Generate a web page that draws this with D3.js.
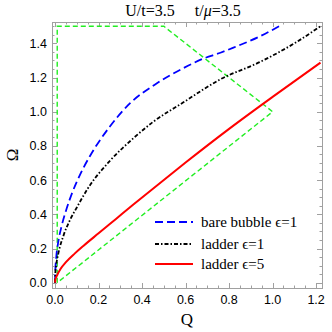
<!DOCTYPE html>
<html>
<head>
<meta charset="utf-8">
<script src="https://cdn.jsdelivr.net/npm/d3@7"></script>
<style>
  body { margin: 0; background: #fff; }
  svg { display: block; }
</style>
</head>
<body>
<div id="chart"></div>
<script>
// values
const bubbleQ = [0, 0.001, 0.005, 0.015, 0.03, 0.05, 0.08, 0.12, 0.16, 0.25, 0.345, 0.46, 0.59, 0.68, 0.76, 0.82, 0.94, 1.04];
const bubbleW = [0, 0.06, 0.14, 0.24, 0.33, 0.42, 0.53, 0.645, 0.74, 0.91, 1.05, 1.16, 1.255, 1.31, 1.345, 1.375, 1.44, 1.507];

const ladder1Q = [0, 0.001, 0.005, 0.015, 0.04, 0.07, 0.1, 0.15, 0.25, 0.36, 0.45, 0.59, 0.76, 0.94, 1.1, 1.22];
const ladder1W = [0, 0.05, 0.1, 0.17, 0.28, 0.37, 0.44, 0.55, 0.71, 0.845, 0.94, 1.055, 1.19, 1.29, 1.4, 1.5];

const ladder5Q = [0, 0.002, 0.01, 0.025, 0.05, 0.09, 0.13, 0.2, 0.28, 0.36, 0.45, 0.6, 0.8, 1.0, 1.22];
const ladder5W = [0, 0.02, 0.045, 0.08, 0.12, 0.17, 0.215, 0.289, 0.373, 0.457, 0.55, 0.703, 0.9, 1.087, 1.287];

// continuum boundary
const edgeQ = [0.01, 0.01, 0.5, 1.0, 0.01];
const edgeW = [0, 1.5, 1.5, 1.0, 0];

const xTicks = [0, 0.2, 0.4, 0.6, 0.8, 1.0, 1.2];
const yTicks = [0, 0.2, 0.4, 0.6, 0.8, 1.0, 1.2, 1.4];

const legendLabels = ["bare bubble \u03f5=1", "ladder \u03f5=1", "ladder \u03f5=5"];

const width = 332, height = 332;
const pLeft = 52, pRight = 322, pTop = 22, pBottom = 288;

const x = d3.scaleLinear().domain([-0.014, 1.227]).range([pLeft, pRight]);
const y = d3.scaleLinear().domain([-0.031, 1.525]).range([pBottom, pTop]);

const svg = d3.select("#chart").append("svg")
  .attr("width", width)
  .attr("height", height);

const frameColor = "#a0a0a0";

// minor + major ticks, on all four sides, pointing inward
const xMinor = d3.range(0, 1.2001, 0.05);
const yMinor = d3.range(0, 1.5001, 0.05);
function isMajor(v) { return Math.abs(v * 5 - Math.round(v * 5)) < 1e-6; }

const tickG = svg.append("g").attr("stroke", frameColor).attr("stroke-width", 1);
xMinor.forEach(v => {
  const len = isMajor(v) ? 5 : 2.5;
  const px = Math.round(x(v)) + 0.5;
  tickG.append("line").attr("x1", px).attr("x2", px).attr("y1", pBottom).attr("y2", pBottom - len);
  tickG.append("line").attr("x1", px).attr("x2", px).attr("y1", pTop).attr("y2", pTop + len);
});
yMinor.forEach(v => {
  const len = isMajor(v) ? 5 : 2.5;
  const py = Math.round(y(v)) + 0.5;
  tickG.append("line").attr("y1", py).attr("y2", py).attr("x1", pLeft).attr("x2", pLeft + len);
  tickG.append("line").attr("y1", py).attr("y2", py).attr("x1", pRight).attr("x2", pRight - len);
});

svg.append("rect")
  .attr("x", pLeft + 0.5).attr("y", pTop + 0.5)
  .attr("width", pRight - pLeft).attr("height", pBottom - pTop)
  .attr("fill", "none").attr("stroke", frameColor).attr("stroke-width", 1);

// tick labels
svg.selectAll("text.xt")
  .data(xTicks)
  .enter()
  .append("text")
  .attr("class", "xt")
  .attr("x", d => x(d))
  .attr("y", 304)
  .attr("text-anchor", "middle")
  .attr("font-family", "Liberation Sans, Arial, sans-serif")
  .attr("font-size", "12.5px")
  .text(d => d.toFixed(1));

svg.selectAll("text.yt")
  .data(yTicks)
  .enter()
  .append("text")
  .attr("class", "yt")
  .attr("x", 47)
  .attr("y", d => y(d) + 4.5)
  .attr("text-anchor", "end")
  .attr("font-family", "Liberation Sans, Arial, sans-serif")
  .attr("font-size", "12.5px")
  .text(d => d.toFixed(1));

// axis labels and title
svg.append("text")
  .attr("x", 187).attr("y", 325)
  .attr("text-anchor", "middle")
  .attr("font-family", "Liberation Serif, Times New Roman, serif")
  .attr("font-size", "17px")
  .text("Q");

svg.append("text")
  .attr("transform", "translate(18,155) rotate(-90)")
  .attr("text-anchor", "middle")
  .attr("font-family", "Liberation Serif, Times New Roman, serif")
  .attr("font-size", "17px")
  .text("\u03a9");

const title = svg.append("text")
  .attr("x", 183).attr("y", 15.5)
  .attr("text-anchor", "middle")
  .attr("font-family", "Liberation Serif, Times New Roman, serif")
  .attr("font-size", "16px")
  .attr("xml:space", "preserve");
title.append("tspan").text("U/t=3.5\u2003 t/");
title.append("tspan").attr("font-style", "italic").text("\u03bc");
title.append("tspan").text("=3.5");

// curves
const plot = svg.append("g");
plot.append("clipPath").attr("id", "clip")
  .append("rect").attr("x", pLeft).attr("y", pTop).attr("width", pRight - pLeft).attr("height", pBottom - pTop);

function pts(qs, ws) { return qs.map((q, i) => [q, ws[i]]); }

const smooth = d3.line().x(d => x(d[0])).y(d => y(d[1])).curve(d3.curveMonotoneX);
const straight = d3.line().x(d => x(d[0])).y(d => y(d[1]));

plot.append("path")
  .attr("d", straight(pts(edgeQ, edgeW)))
  .attr("fill", "none")
  .attr("stroke", "#22ee22")
  .attr("stroke-width", 1.4)
  .attr("stroke-dasharray", "5,3");

const series = [
  { q: bubbleQ, w: bubbleW, color: "#0000ff", width: 1.8, dash: "8,4" },
  { q: ladder1Q, w: ladder1W, color: "#000000", width: 1.8, dash: "4,2,1.5,2" },
  { q: ladder5Q, w: ladder5W, color: "#ff0000", width: 2, dash: null }
];

series.forEach(s => {
  plot.append("path")
    .attr("d", smooth(pts(s.q, s.w)))
    .attr("clip-path", "url(#clip)")
    .attr("fill", "none")
    .attr("stroke", s.color)
    .attr("stroke-width", s.width)
    .attr("stroke-dasharray", s.dash);
});

// legend
const legendY = [222, 244, 264];
const leg = svg.append("g");
series.forEach((s, i) => {
  leg.append("line")
    .attr("x1", 155).attr("x2", 193)
    .attr("y1", legendY[i]).attr("y2", legendY[i])
    .attr("stroke", s.color)
    .attr("stroke-width", s.width)
    .attr("stroke-dasharray", s.dash);
  leg.append("text")
    .attr("x", 201)
    .attr("y", legendY[i] + 4.5)
    .attr("font-family", "Liberation Serif, Times New Roman, serif")
    .attr("font-size", "15px")
    .text(legendLabels[i]);
});
</script>
</body>
</html>
